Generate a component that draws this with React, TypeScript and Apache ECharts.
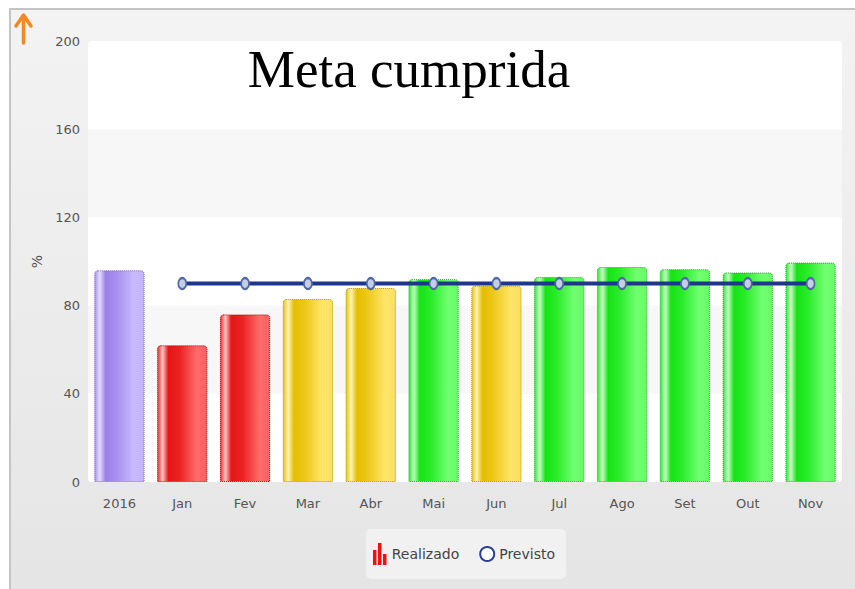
import React, { useEffect, useRef } from "react";
import * as echarts from "echarts";

const categories = ["2016", "Jan", "Fev", "Mar", "Abr", "Mai", "Jun", "Jul", "Ago", "Set", "Out", "Nov"];
const realizado = [96, 62, 76, 83, 88, 92, 89, 93, 97.5, 96.5, 95, 99.5];
const previsto: (number | null)[] = [null, 90, 90, 90, 90, 90, 90, 90, 90, 90, 90, 90];
const yTicks = { min: 0, max: 200, interval: 40 };

const palettes: Record<string, { stops: string[]; border: string }> = {
  ano: { stops: ["#a892ee", "#e4dcff", "#9a7fe6", "#a892ee", "#c9baff", "#c2b2fa"], border: "#7a5fcc" },
  abaixo: { stops: ["#e63030", "#ffc4c4", "#e41616", "#ec2222", "#ff6c6c", "#f66060"], border: "#b00000" },
  perto: { stops: ["#e8c412", "#fff3b4", "#e4be00", "#eec81c", "#ffe66a", "#fadf5e"], border: "#b09000" },
  acima: { stops: ["#30e830", "#c4ffc4", "#16e216", "#2aec2a", "#72ff72", "#66fa66"], border: "#14b414" },
};

function statusOf(i: number, v: number): string {
  if (i === 0) return "ano";
  if (v < 80) return "abaixo";
  if (v < 90) return "perto";
  return "acima";
}

function gradient(key: string) {
  const p = palettes[key];
  const pos = [0, 0.1, 0.22, 0.45, 0.8, 1];
  return new echarts.graphic.LinearGradient(0, 0, 1, 0, p.stops.map((c, k) => ({ offset: pos[k], color: c })));
}

export default function App() {
  const ref = useRef<HTMLDivElement>(null);
  useEffect(() => {
    if (!ref.current) return;
    const chart = echarts.init(ref.current, undefined, { renderer: "svg" });
    const font = "DejaVu Sans";
    chart.setOption({
      animation: false,
      backgroundColor: "#ffffff",
      graphic: [
        {
          type: "rect",
          z: -20,
          silent: true,
          shape: { x: 10, y: 9, width: 900, height: 700 },
          style: {
            fill: new echarts.graphic.LinearGradient(0, 0, 0, 1, [
              { offset: 0, color: "#f3f3f3" },
              { offset: 1, color: "#e2e2e2" },
            ]),
            stroke: "#c4c4c4",
            lineWidth: 2,
          },
        },
        {
          type: "rect",
          z: -10,
          silent: true,
          shape: { x: 88, y: 41, width: 754, height: 441, r: 4 },
          style: { fill: "#ffffff" },
        },
        {
          type: "line",
          z: 10,
          shape: { x1: 23.5, y1: 16, x2: 23.5, y2: 43 },
          style: { stroke: "#f5891f", lineWidth: 3.5, lineCap: "round" },
        },
        {
          type: "polyline",
          z: 10,
          shape: { points: [[16, 26], [23.5, 15], [31, 26]] },
          style: { stroke: "#f5891f", lineWidth: 3.5, fill: "none", lineCap: "round", lineJoin: "round" },
        },
        {
          type: "text",
          z: 100,
          x: 409,
          y: 69,
          style: {
            text: "Meta cumprida",
            fill: "#000000",
            font: "53px 'Liberation Serif'",
            textAlign: "center",
            textVerticalAlign: "middle",
          },
        },
      ],
      grid: { left: 88, right: 13, top: 41, bottom: 107, containLabel: false },
      legend: {
        left: 366,
        top: 529,
        padding: [14, 11, 14, 7],
        backgroundColor: "#f1f1f1",
        borderRadius: 5,
        itemWidth: 14,
        itemHeight: 22,
        itemGap: 20,
        textStyle: { color: "#444", fontSize: 14, fontFamily: font },
        data: [
          { name: "Realizado", icon: "path://M0,7h3.5v15H0z M5,0h3.5v22H5z M10,11h3.5v11H10z", itemStyle: { color: "#ee1111" } },
          { name: "Previsto", icon: "emptyCircle", itemStyle: { color: "#2b3f94" } },
        ],
      },
      xAxis: {
        type: "category",
        data: categories,
        axisLine: { show: false },
        axisTick: { show: false },
        axisLabel: { color: "#555", fontSize: 13, fontFamily: font, margin: 15 },
      },
      yAxis: {
        type: "value",
        min: yTicks.min,
        max: yTicks.max,
        interval: yTicks.interval,
        name: "%",
        nameLocation: "middle",
        nameRotate: 90,
        nameGap: 44,
        nameTextStyle: { color: "#555", fontSize: 14, fontFamily: font },
        axisLine: { show: false },
        axisTick: { show: false },
        splitLine: { show: false },
        splitArea: { show: true, areaStyle: { color: ["rgba(255,255,255,0)", "#f7f7f7"] } },
        axisLabel: { color: "#555", fontSize: 13, fontFamily: font, margin: 8 },
      },
      series: [
        {
          name: "Realizado",
          type: "bar",
          barWidth: "80%",
          itemStyle: { color: "#ee1111" },
          data: realizado.map((v, i) => {
            const k = statusOf(i, v);
            return {
              value: v,
              itemStyle: {
                color: gradient(k),
                borderColor: palettes[k].border,
                borderWidth: 1,
                borderType: "dotted",
                borderRadius: [3, 3, 0, 0],
              },
            };
          }),
        },
        {
          name: "Previsto",
          type: "line",
          data: previsto.map((v) => (v === null ? "-" : v)),
          symbol: "circle",
          symbolSize: [8, 11],
          lineStyle: { color: "#1f368c", width: 4 },
          itemStyle: { color: "#c6cee6", borderColor: "#5068a8", borderWidth: 2 },
          z: 5,
        },
      ],
    });
    return () => chart.dispose();
  }, []);
  return <div ref={ref} style={{ position: "absolute", left: 0, top: 0, width: 855, height: 589 }} />;
}
